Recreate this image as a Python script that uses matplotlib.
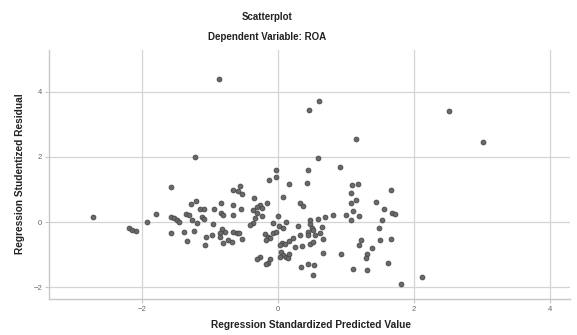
import matplotlib
matplotlib.use("Agg")
import matplotlib.pyplot as plt

plt.rcParams['font.family'] = ['Liberation Sans', 'DejaVu Sans']

# standardized predicted value (x) and studentized residual (y)
pred = [
    -0.86, 0.61, 0.46, 2.52, 3.02, 1.16, -1.21, 0.59, 0.92,
    0.45, -0.02, -0.02, -0.13, 0.43, 0.17, -1.57,
    1.18, 1.10, 1.08, 1.67, 1.16, 1.08, 1.45, 1.11, 1.57,
    0.81, 1.01, 1.20, 1.08, 1.68, 1.73, 1.54, 1.49, 1.51, 1.66, 1.23, 1.20, 1.39,
    0.93, 1.32, 1.30, 1.63, 1.11, 1.32, 2.12, 1.82,
    0.70, 0.60, 0.47, 0.47,
    -2.71, -2.18, -2.14, -2.08, -1.92, -1.79,
    -1.57, -1.52, -1.48, -1.45, -1.57, -1.37, -1.33, -1.23,
    -1.27, -1.20, -1.35, -1.30, -1.26, -1.18, -1.14, -1.08, -1.11, -1.08,
    -0.55, -0.65, -0.58, -0.52,
    0.08, -0.35, -0.16, 0.33, 0.37, -0.83,
    -0.26, -0.30, -0.23, -0.66, -0.54, -0.93,
    -0.36, -0.31, -0.83, -0.80, -0.65, 0.01, -0.23,
    -0.36, -0.40, -0.33, -0.95, -0.07, 0.02, 0.08, 0.30, 0.50, 0.12, 0.65,
    -0.82, -0.77, -0.85, -0.65, -0.60, -0.57, -1.05, -0.97, -1.07,
    -0.18, -0.14, -0.07, -0.02,
    0.44, 0.52, 0.45, 0.55, 0.63, 0.33, 0.67,
    0.23, 0.17, -0.52, -0.85, -0.73, -0.67, -0.80,
    0.06, 0.11, 0.04, -0.11, -0.17,
    0.36, 0.47, 0.52, 0.26, 0.67,
    0.05, 0.08, 0.04, 0.12, 0.16, 0.17,
    -0.26, -0.30, -0.11, -0.14, -0.17,
    0.34, 0.45, 0.54, 0.52,
]
resid = [
    4.40, 3.72, 3.45, 3.42, 2.46, 2.55, 2.00, 1.97, 1.69,
    1.60, 1.60, 1.38, 1.29, 1.20, 1.17, 1.08,
    1.17, 1.14, 0.89, 0.98, 0.68, 0.58, 0.62, 0.34, 0.40,
    0.22, 0.22, 0.18, 0.06, 0.28, 0.25, 0.06, -0.18, -0.55, -0.52, -0.55, -0.71, -0.80,
    -0.98, -0.98, -1.11, -1.26, -1.45, -1.48, -1.69, -1.91,
    0.15, 0.09, 0.06, -0.06,
    0.15, -0.18, -0.25, -0.28, 0.00, 0.25,
    0.15, 0.12, 0.06, 0.00, -0.34, -0.31, -0.58, -0.28,
    0.55, 0.65, 0.25, 0.22, 0.06, -0.03, 0.40, 0.40, 0.15, 0.09,
    1.11, 0.98, 0.95, 0.86,
    0.77, 0.74, 0.58, 0.58, 0.49, 0.58,
    0.52, 0.46, 0.43, 0.52, 0.40, 0.40,
    0.37, 0.28, 0.28, 0.22, 0.22, 0.18, 0.18,
    -0.03, -0.09, 0.12, -0.06, -0.03, -0.12, -0.18, -0.12, -0.18, 0.00, -0.15,
    -0.22, -0.31, -0.34, -0.31, -0.34, -0.34, -0.46, -0.40, -0.70,
    -0.37, -0.46, -0.34, -0.31,
    -0.31, -0.25, -0.40, -0.40, -0.34, -0.40, -0.52,
    -0.49, -0.58, -0.52, -0.46, -0.55, -0.62, -0.65,
    -0.65, -0.68, -0.71, -0.49, -0.55,
    -0.74, -0.68, -0.62, -0.77, -0.95,
    -0.92, -1.02, -1.08, -1.08, -1.11, -0.98,
    -1.08, -1.14, -1.14, -1.26, -1.29,
    -1.38, -1.29, -1.32, -1.63,
]

ticks = [-2, 0, 2, 4]

fig = plt.figure(figsize=(5.77, 3.35), dpi=100)
ax = fig.add_axes([0.085, 0.107, 0.903, 0.744])

ax.scatter(pred, resid, s=12, c='#6a6a6a', edgecolors='#474747', linewidths=0.6, zorder=3)

ax.set_xlim(-3.36, 4.30)
ax.set_ylim(-2.37, 5.29)
ax.set_xticks(ticks)
ax.set_yticks(ticks)
ax.grid(True, color='#d4d4d4', linewidth=0.9, zorder=0)

for side in ['top', 'right']:
    ax.spines[side].set_visible(False)
for side in ['left', 'bottom']:
    ax.spines[side].set_color('#c8c8c8')
    ax.spines[side].set_linewidth(1.0)
ax.tick_params(colors='#c8c8c8', labelcolor='#666666', labelsize=5.5, length=3, width=0.8, pad=2)

fig.text(0.463, 0.949, 'Scatterplot', ha='center', va='center', fontsize=7, fontweight='bold', color='#222222')
fig.text(0.463, 0.890, 'Dependent Variable: ROA', ha='center', va='center', fontsize=7, fontweight='bold', color='#222222')
fig.text(0.539, 0.030, 'Regression Standardized Predicted Value', ha='center', va='center',
         fontsize=7.3, fontweight='bold', color='#222222')
fig.text(0.035, 0.483, 'Regression Studentized Residual', ha='center', va='center', rotation=90,
         fontsize=7.3, fontweight='bold', color='#222222')

fig.savefig('out.png', dpi=100)
